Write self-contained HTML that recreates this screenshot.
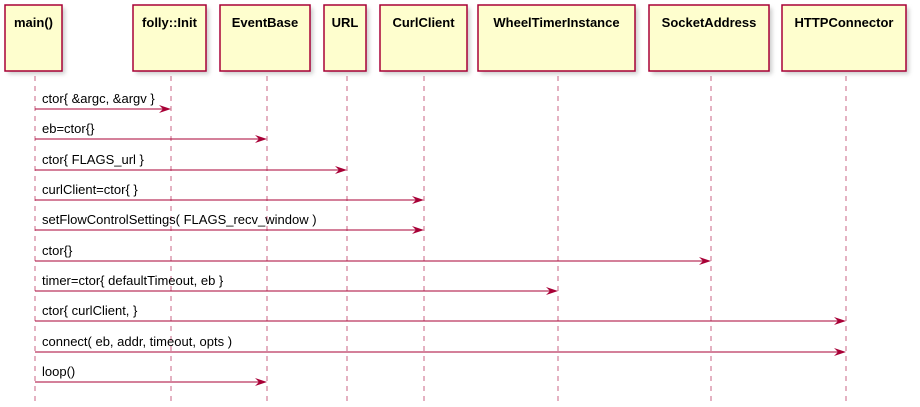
<!DOCTYPE html>
<html><head><meta charset="utf-8"><style>body{margin:0;background:#fff}svg{display:block}</style></head><body>
<svg width="920" height="407" xmlns="http://www.w3.org/2000/svg" font-family="Liberation Sans, Arial, sans-serif">
<defs><filter id="s" x="-10%" y="-10%" width="130%" height="130%"><feGaussianBlur stdDeviation="2"/></filter></defs>
<g stroke="#A80036" stroke-width="1" stroke-dasharray="5,5" opacity="0.6">
<line x1="35" y1="76" x2="35" y2="402"/><line x1="171" y1="76" x2="171" y2="402"/>
<line x1="267" y1="76" x2="267" y2="402"/><line x1="347" y1="76" x2="347" y2="402"/>
<line x1="424" y1="76" x2="424" y2="402"/><line x1="558" y1="76" x2="558" y2="402"/>
<line x1="711" y1="76" x2="711" y2="402"/><line x1="846" y1="76" x2="846" y2="402"/>
</g>
<g>
<g fill="#999" opacity="0.5" filter="url(#s)">
<rect x="8" y="8" width="57" height="66"/><rect x="136" y="8" width="73" height="66"/><rect x="223" y="8" width="90" height="66"/><rect x="327" y="8" width="42" height="66"/><rect x="383" y="8" width="87" height="66"/><rect x="481" y="8" width="157" height="66"/><rect x="652" y="8" width="120" height="66"/><rect x="785" y="8" width="124" height="66"/>
</g>
<g fill="#FEFECE" stroke="#A80036" stroke-width="1.5">
<rect x="5" y="5" width="57" height="66"/><rect x="133" y="5" width="73" height="66"/><rect x="220" y="5" width="90" height="66"/><rect x="324" y="5" width="42" height="66"/><rect x="380" y="5" width="87" height="66"/><rect x="478" y="5" width="157" height="66"/><rect x="649" y="5" width="120" height="66"/><rect x="782" y="5" width="124" height="66"/>
</g>
<g font-size="13" font-weight="bold" text-anchor="middle" fill="#000">
<text x="33.5" y="27">main()</text><text x="169.5" y="27">folly::Init</text><text x="265" y="27">EventBase</text><text x="345" y="27">URL</text><text x="423.5" y="27">CurlClient</text><text x="556.5" y="27">WheelTimerInstance</text><text x="709" y="27">SocketAddress</text><text x="844" y="27">HTTPConnector</text>
</g>
</g>
<g stroke="#A80036" stroke-width="1">
<line x1="35" y1="109" x2="169" y2="109"/><line x1="35" y1="139" x2="265" y2="139"/><line x1="35" y1="170" x2="345" y2="170"/><line x1="35" y1="200" x2="422" y2="200"/><line x1="35" y1="230" x2="422" y2="230"/><line x1="35" y1="261" x2="709" y2="261"/><line x1="35" y1="291" x2="556" y2="291"/><line x1="35" y1="321" x2="844" y2="321"/><line x1="35" y1="352" x2="844" y2="352"/><line x1="35" y1="382" x2="265" y2="382"/>
</g>
<g fill="#A80036">
<polygon points="159,105 171,109 159,113 163,109"/><polygon points="255,135 267,139 255,143 259,139"/><polygon points="335,166 347,170 335,174 339,170"/><polygon points="412,196 424,200 412,204 416,200"/><polygon points="412,226 424,230 412,234 416,230"/><polygon points="699,257 711,261 699,265 703,261"/><polygon points="546,287 558,291 546,295 550,291"/><polygon points="834,317 846,321 834,325 838,321"/><polygon points="834,348 846,352 834,356 838,352"/><polygon points="255,378 267,382 255,386 259,382"/>
</g>
<g font-size="13" fill="#000">
<text x="42" y="103">ctor{ &amp;argc, &amp;argv }</text>
<text x="42" y="133">eb=ctor{}</text>
<text x="42" y="164">ctor{ FLAGS_url }</text>
<text x="42" y="194">curlClient=ctor{ }</text>
<text x="42" y="224">setFlowControlSettings( FLAGS_recv_window )</text>
<text x="42" y="255">ctor{}</text>
<text x="42" y="285">timer=ctor{ defaultTimeout, eb }</text>
<text x="42" y="315">ctor{ curlClient, }</text>
<text x="42" y="346">connect( eb, addr, timeout, opts )</text>
<text x="42" y="376">loop()</text>
</g>
</svg>
</body></html>
